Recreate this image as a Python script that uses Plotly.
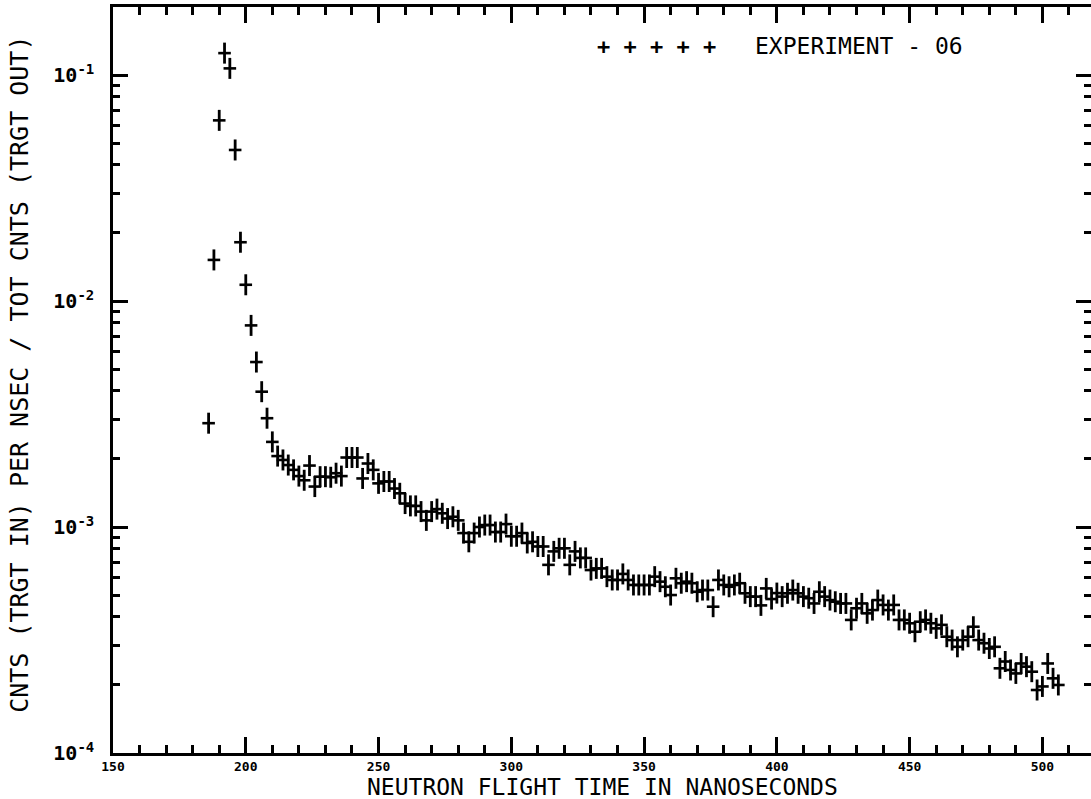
import plotly.graph_objects as go

# Neutron flight time (ns) and normalised counts
time_ns = [186, 188, 190, 192, 194, 196, 198, 200, 202, 204, 206, 208, 210, 212, 214, 216, 218, 220,
           222, 224, 226, 228, 230, 232, 234, 236, 238, 240, 242, 244, 246, 248, 250, 252, 254, 256,
           258, 260, 262, 264, 266, 268, 270, 272, 274, 276, 278, 280, 282, 284, 286, 288, 290, 292,
           294, 296, 298, 300, 302, 304, 306, 308, 310, 312, 314, 316, 318, 320, 322, 324, 326, 328,
           330, 332, 334, 336, 338, 340, 342, 344, 346, 348, 350, 352, 354, 356, 358, 360, 362, 364,
           366, 368, 370, 372, 374, 376, 378, 380, 382, 384, 386, 388, 390, 392, 394, 396, 398, 400,
           402, 404, 406, 408, 410, 412, 414, 416, 418, 420, 422, 424, 426, 428, 430, 432, 434, 436,
           438, 440, 442, 444, 446, 448, 450, 452, 454, 456, 458, 460, 462, 464, 466, 468, 470, 472,
           474, 476, 478, 480, 482, 484, 486, 488, 490, 492, 494, 496, 498, 500, 502, 504, 506]

counts = [2.88e-3, 1.52e-2, 6.3e-2, 0.125, 0.107, 0.0466, 0.0182, 0.0118, 7.8e-3, 5.37e-3, 3.97e-3,
          3.03e-3, 2.38e-3, 2.06e-3, 1.98e-3, 1.88e-3, 1.79e-3, 1.68e-3, 1.61e-3, 1.87e-3, 1.51e-3,
          1.67e-3, 1.67e-3, 1.66e-3, 1.73e-3, 1.68e-3, 2.03e-3, 2.03e-3, 2.03e-3, 1.64e-3, 1.91e-3,
          1.79e-3, 1.56e-3, 1.59e-3, 1.59e-3, 1.48e-3, 1.41e-3, 1.27e-3, 1.24e-3, 1.24e-3, 1.17e-3,
          1.07e-3, 1.17e-3, 1.20e-3, 1.15e-3, 1.09e-3, 1.11e-3, 1.07e-3, 9.4e-4, 8.6e-4, 9.4e-4,
          1.0e-3, 1.02e-3, 1.02e-3, 9.5e-4, 9.5e-4, 1.03e-3, 9.1e-4, 9.1e-4, 9.4e-4, 8.5e-4, 8.6e-4,
          8.2e-4, 8.2e-4, 6.8e-4, 7.8e-4, 8.05e-4, 8.05e-4, 6.8e-4, 7.8e-4, 7.3e-4, 7.3e-4, 6.45e-4,
          6.56e-4, 6.56e-4, 6.03e-4, 5.83e-4, 5.83e-4, 6.2e-4, 5.83e-4, 5.54e-4, 5.54e-4, 5.54e-4,
          5.54e-4, 6.03e-4, 5.73e-4, 5.44e-4, 5.0e-4, 5.93e-4, 5.64e-4, 5.73e-4, 5.64e-4, 5.17e-4,
          5.26e-4, 5.26e-4, 4.44e-4, 5.83e-4, 5.54e-4, 5.44e-4, 5.54e-4, 5.64e-4, 5.09e-4, 4.92e-4,
          4.92e-4, 4.5e-4, 5.35e-4, 4.8e-4, 5.1e-4, 4.92e-4, 5.09e-4, 5.26e-4, 5.09e-4, 4.92e-4,
          4.84e-4, 4.59e-4, 5.17e-4, 4.92e-4, 4.75e-4, 4.67e-4, 4.59e-4, 4.59e-4, 3.88e-4, 4.37e-4,
          4.59e-4, 4.15e-4, 4.29e-4, 4.75e-4, 4.52e-4, 4.29e-4, 4.52e-4, 3.88e-4, 3.88e-4, 3.75e-4,
          3.44e-4, 3.81e-4, 3.88e-4, 3.75e-4, 3.56e-4, 3.69e-4, 3.27e-4, 3.16e-4, 2.95e-4, 3.16e-4,
          3.27e-4, 3.62e-4, 3.16e-4, 3.06e-4, 2.90e-4, 2.95e-4, 2.37e-4, 2.54e-4, 2.33e-4, 2.25e-4,
          2.49e-4, 2.41e-4, 2.29e-4, 1.90e-4, 1.97e-4, 2.49e-4, 2.14e-4, 2.0e-4]

y_major = [1e-4, 1e-3, 1e-2, 1e-1]
y_major_text = ["10<sup>-4</sup>", "10<sup>-3</sup>", "10<sup>-2</sup>", "10<sup>-1</sup>"]
y_minor = [m * d for d in (1e-4, 1e-3, 1e-2, 1e-1) for m in range(2, 10)]

MONO = "DejaVu Sans Mono, Liberation Mono, monospace"

fig = go.Figure()
fig.add_trace(go.Scatter(
    x=time_ns, y=counts, mode="markers", showlegend=False, hoverinfo="skip",
    marker=dict(symbol="line-ns", size=15, line=dict(width=2.8, color="black"), color="black")))
fig.add_trace(go.Scatter(
    x=time_ns, y=counts, mode="markers", showlegend=False,
    marker=dict(symbol="line-ew", size=9, line=dict(width=2.6, color="black"), color="black")))

# legend-like annotation
fig.add_annotation(xref="paper", yref="paper", x=0.493, y=0.9475, xanchor="left", yanchor="middle",
                   text="+ + + + +", showarrow=False,
                   font=dict(family=MONO, size=22, color="black", weight="bold"))
fig.add_annotation(xref="paper", yref="paper", x=0.654, y=0.9475, xanchor="left", yanchor="middle",
                   text="EXPERIMENT - 06", showarrow=False,
                   font=dict(family=MONO, size=23, color="black"))
# axis titles
fig.add_annotation(xref="paper", yref="paper", x=0.5, y=-0.045, xanchor="center", yanchor="middle",
                   text="NEUTRON FLIGHT TIME IN NANOSECONDS", showarrow=False,
                   font=dict(family=MONO, size=23, color="black"))
fig.add_annotation(xref="paper", yref="paper", x=-0.095, y=0.507, xanchor="center", yanchor="middle",
                   text="CNTS (TRGT IN) PER NSEC / TOT CNTS (TRGT OUT)", showarrow=False,
                   textangle=-90, font=dict(family=MONO, size=25, color="black"))

fig.update_layout(
    width=1091, height=799,
    margin=dict(l=113, r=0, t=7, b=46, autoexpand=False),
    paper_bgcolor="white", plot_bgcolor="white",
    font=dict(family=MONO, color="black"),
    xaxis=dict(
        range=[150, 518.3], tick0=150, dtick=50, automargin=False,
        ticks="inside", ticklen=16, tickwidth=2.5, tickcolor="black",
        minor=dict(dtick=10, ticks="inside", ticklen=8, tickwidth=2.5, tickcolor="black"),
        showline=True, linewidth=2.5, linecolor="black", mirror="ticks",
        showgrid=False, zeroline=False,
        tickfont=dict(size=13, family=MONO, weight="bold"),
        ticklabelstandoff=0,
    ),
    yaxis=dict(
        type="log", range=[-4, -0.699], automargin=False,
        tickvals=y_major, ticktext=y_major_text,
        ticks="inside", ticklen=15, tickwidth=2.5, tickcolor="black",
        minor=dict(tickvals=y_minor, ticks="inside", ticklen=7, tickwidth=2.5, tickcolor="black"),
        showline=True, linewidth=2.5, linecolor="black", mirror="ticks",
        showgrid=False, zeroline=False,
        tickfont=dict(size=20, family=MONO, weight="bold"),
        ticklabelstandoff=12,
    ),
)

fig.write_html("out.html", config={"displayModeBar": False},
               post_script="document.body.style.margin='0px';document.body.style.overflow='hidden';")
